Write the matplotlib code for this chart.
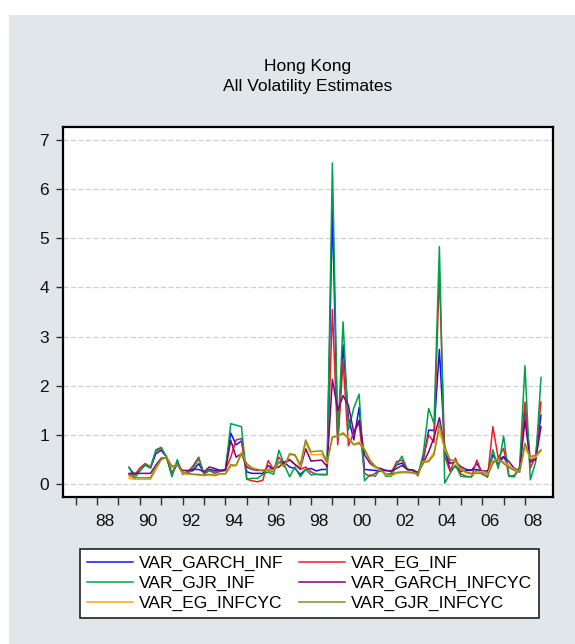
# Hong Kong volatility estimates, quarterly 1989Q3-2008Q4
import matplotlib
matplotlib.use("Agg")
import matplotlib.pyplot as plt
import matplotlib.patches as patches
import numpy as np
import pandas as pd

plt.rcParams['font.family'] = ['Liberation Sans', 'DejaVu Sans']

# DATA
# ----
quarters = pd.period_range('1989Q3', '2008Q4', freq='Q')

var_garch_inf = [
    0.33, 0.20, 0.27, 0.39, 0.33, 0.62, 0.69, 0.55, 0.20, 0.42, 0.22, 0.25, 0.28, 0.42, 0.22, 0.30, 0.28,
    0.28, 0.30, 1.04, 0.80, 0.88, 0.25, 0.22, 0.22, 0.22, 0.38, 0.30, 0.45, 0.45, 0.35, 0.32, 0.20, 0.30, 0.32,
    0.27, 0.30, 0.30, 5.59, 0.90, 2.83, 1.35, 0.90, 1.56, 0.30, 0.29, 0.28, 0.26, 0.28, 0.26, 0.39, 0.43, 0.30,
    0.29, 0.22, 0.49, 1.10, 1.09, 2.74, 0.70, 0.29, 0.36, 0.26, 0.28, 0.28, 0.42, 0.24, 0.22, 0.60, 0.40, 0.56,
    0.36, 0.29, 0.28, 1.57, 0.49, 0.55, 1.40]
var_eg_inf = [
    0.20, 0.18, 0.33, 0.42, 0.35, 0.67, 0.73, 0.55, 0.22, 0.45, 0.22, 0.25, 0.38, 0.55, 0.20, 0.28, 0.22,
    0.26, 0.29, 0.55, 0.90, 0.93, 0.10, 0.07, 0.05, 0.08, 0.48, 0.30, 0.55, 0.40, 0.50, 0.40, 0.30, 0.35, 0.25,
    0.20, 0.20, 0.20, 3.55, 0.80, 2.50, 0.78, 1.05, 1.25, 0.22, 0.16, 0.22, 0.30, 0.19, 0.22, 0.46, 0.49, 0.30,
    0.28, 0.17, 0.55, 1.00, 0.85, 4.35, 0.56, 0.26, 0.53, 0.21, 0.16, 0.15, 0.49, 0.22, 0.14, 1.17, 0.53, 0.73,
    0.16, 0.18, 0.32, 1.67, 0.32, 0.59, 1.67]
var_gjr_inf = [
    0.35, 0.12, 0.27, 0.40, 0.33, 0.70, 0.75, 0.55, 0.15, 0.50, 0.20, 0.22, 0.33, 0.52, 0.22, 0.28, 0.25,
    0.27, 0.28, 1.23, 1.20, 1.17, 0.10, 0.12, 0.12, 0.20, 0.25, 0.20, 0.69, 0.40, 0.15, 0.35, 0.15, 0.30, 0.19,
    0.20, 0.19, 0.19, 6.53, 0.95, 3.30, 1.10, 1.55, 1.83, 0.07, 0.19, 0.16, 0.32, 0.16, 0.16, 0.39, 0.57, 0.30,
    0.28, 0.19, 0.63, 1.54, 1.23, 4.83, 0.02, 0.22, 0.39, 0.16, 0.15, 0.15, 0.29, 0.20, 0.16, 0.70, 0.32, 0.98,
    0.16, 0.15, 0.36, 2.41, 0.09, 0.45, 2.17]
var_garch_infcyc = [
    0.22, 0.22, 0.22, 0.22, 0.22, 0.39, 0.53, 0.53, 0.35, 0.39, 0.28, 0.28, 0.30, 0.30, 0.25, 0.35, 0.32,
    0.28, 0.28, 0.89, 0.55, 0.62, 0.35, 0.30, 0.28, 0.28, 0.30, 0.32, 0.35, 0.45, 0.50, 0.40, 0.32, 0.72, 0.47,
    0.48, 0.49, 0.36, 2.13, 1.50, 1.80, 1.60, 1.05, 1.30, 0.60, 0.43, 0.34, 0.32, 0.28, 0.27, 0.32, 0.38, 0.30,
    0.29, 0.24, 0.43, 0.66, 0.95, 1.35, 0.76, 0.42, 0.46, 0.36, 0.30, 0.29, 0.30, 0.27, 0.27, 0.46, 0.49, 0.56,
    0.46, 0.32, 0.27, 1.30, 0.45, 0.50, 1.17]
var_eg_infcyc = [
    0.12, 0.10, 0.10, 0.10, 0.10, 0.30, 0.50, 0.55, 0.35, 0.39, 0.22, 0.20, 0.20, 0.18, 0.18, 0.19, 0.17,
    0.21, 0.21, 0.36, 0.38, 0.65, 0.40, 0.32, 0.30, 0.27, 0.30, 0.28, 0.45, 0.35, 0.60, 0.58, 0.35, 0.85, 0.60,
    0.60, 0.61, 0.42, 0.97, 0.98, 1.05, 0.95, 0.81, 0.86, 0.72, 0.50, 0.34, 0.28, 0.19, 0.17, 0.22, 0.23, 0.23,
    0.22, 0.21, 0.46, 0.49, 0.65, 1.10, 0.70, 0.50, 0.45, 0.30, 0.23, 0.20, 0.24, 0.26, 0.20, 0.48, 0.50, 0.45,
    0.38, 0.30, 0.26, 0.76, 0.52, 0.55, 0.68]
var_gjr_infcyc = [
    0.17, 0.13, 0.13, 0.13, 0.13, 0.35, 0.50, 0.55, 0.37, 0.39, 0.25, 0.22, 0.20, 0.20, 0.18, 0.20, 0.18,
    0.21, 0.21, 0.40, 0.38, 0.62, 0.42, 0.33, 0.30, 0.28, 0.28, 0.25, 0.45, 0.35, 0.62, 0.60, 0.40, 0.90, 0.66,
    0.67, 0.68, 0.45, 0.95, 0.98, 1.03, 0.93, 0.80, 0.83, 0.70, 0.49, 0.37, 0.29, 0.21, 0.19, 0.24, 0.25, 0.25,
    0.24, 0.21, 0.44, 0.46, 0.60, 1.23, 0.76, 0.49, 0.48, 0.32, 0.25, 0.22, 0.22, 0.22, 0.17, 0.42, 0.53, 0.42,
    0.34, 0.28, 0.24, 0.83, 0.56, 0.59, 0.70]

series_names = ['VAR_GARCH_INF', 'VAR_EG_INF', 'VAR_GJR_INF',
                'VAR_GARCH_INFCYC', 'VAR_EG_INFCYC', 'VAR_GJR_INFCYC']
series_values = [var_garch_inf, var_eg_inf, var_gjr_inf,
                 var_garch_infcyc, var_eg_infcyc, var_gjr_infcyc]
series_colors = ['#1414f0', '#ee1c24', '#00a04a', '#800080', '#f5a623', '#8c8c14']

years = list(range(1987, 2009))
label_years = list(range(1988, 2009, 2))

# quarter position on a continuous year scale
t = np.array([q.year + (q.quarter - 1) / 4 for q in quarters])

FS = 12.5

# FIGURE
# ------
W, H = 575, 644
fig = plt.figure(figsize=(W / 100, H / 100), dpi=100)
fig.patch.set_facecolor('white')
fig.patches.append(patches.Rectangle((9 / W, 0), 1 - 9 / W, 1 - 15 / H,
                                     transform=fig.transFigure,
                                     facecolor='#e1e6eb', edgecolor='none', zorder=-10))

ax = fig.add_axes([63 / W, 1 - 497 / H, 490 / W, 370 / H])
ax.set_zorder(2)
ax.set_facecolor('white')

lines = []
for vals, name, col in zip(series_values, series_names, series_colors):
    ln, = ax.plot(t, vals, color=col, lw=1.1, label=name)
    lines.append(ln)

# y axis
ax.set_ylim(-0.26, 7.26)
ax.set_yticks(range(0, 8))
ax.yaxis.grid(True, linestyle=(0, (4, 2)), color='#cfcfcf', lw=0.9)
ax.set_axisbelow(True)

# x axis: tick per year, labels centred on the year
ax.set_xlim(1986.41, 2009.31)
ax.set_xticks(years)
ax.set_xticklabels([])
ax.set_xticks([y + 0.375 for y in label_years], minor=True)
ax.set_xticklabels([str(y)[2:] for y in label_years], minor=True)
ax.tick_params(axis='x', which='major', direction='out', length=6, width=1, color='#333333')
ax.tick_params(axis='x', which='minor', length=0, pad=12)
ax.tick_params(axis='y', direction='out', length=5, width=1, color='#333333', pad=5)
ax.tick_params(which='both', labelsize=FS, labelcolor='#111111')

for sp in ax.spines.values():
    sp.set_linewidth(1.6)
    sp.set_color('black')

fig.text(308 / W, 1 - 76.5 / H, 'Hong Kong\nAll Volatility Estimates',
         ha='center', va='center', fontsize=FS, linespacing=1.45)

# legend filled row by row
order = [0, 2, 4, 1, 3, 5]
leg = fig.legend([lines[k] for k in order], [series_names[k] for k in order],
                 loc='upper left', bbox_to_anchor=(80 / W, 1 - 549 / H),
                 ncol=2, fontsize=FS, frameon=True, fancybox=False,
                 borderpad=0.4, handlelength=2.65, handletextpad=0.35,
                 columnspacing=0.9, labelspacing=0.26, borderaxespad=0)
leg.get_frame().set_edgecolor('#222222')
leg.get_frame().set_linewidth(1.2)
leg.get_frame().set_facecolor('white')
leg.get_frame().set_alpha(1)

fig.savefig('out.png', dpi=100)
